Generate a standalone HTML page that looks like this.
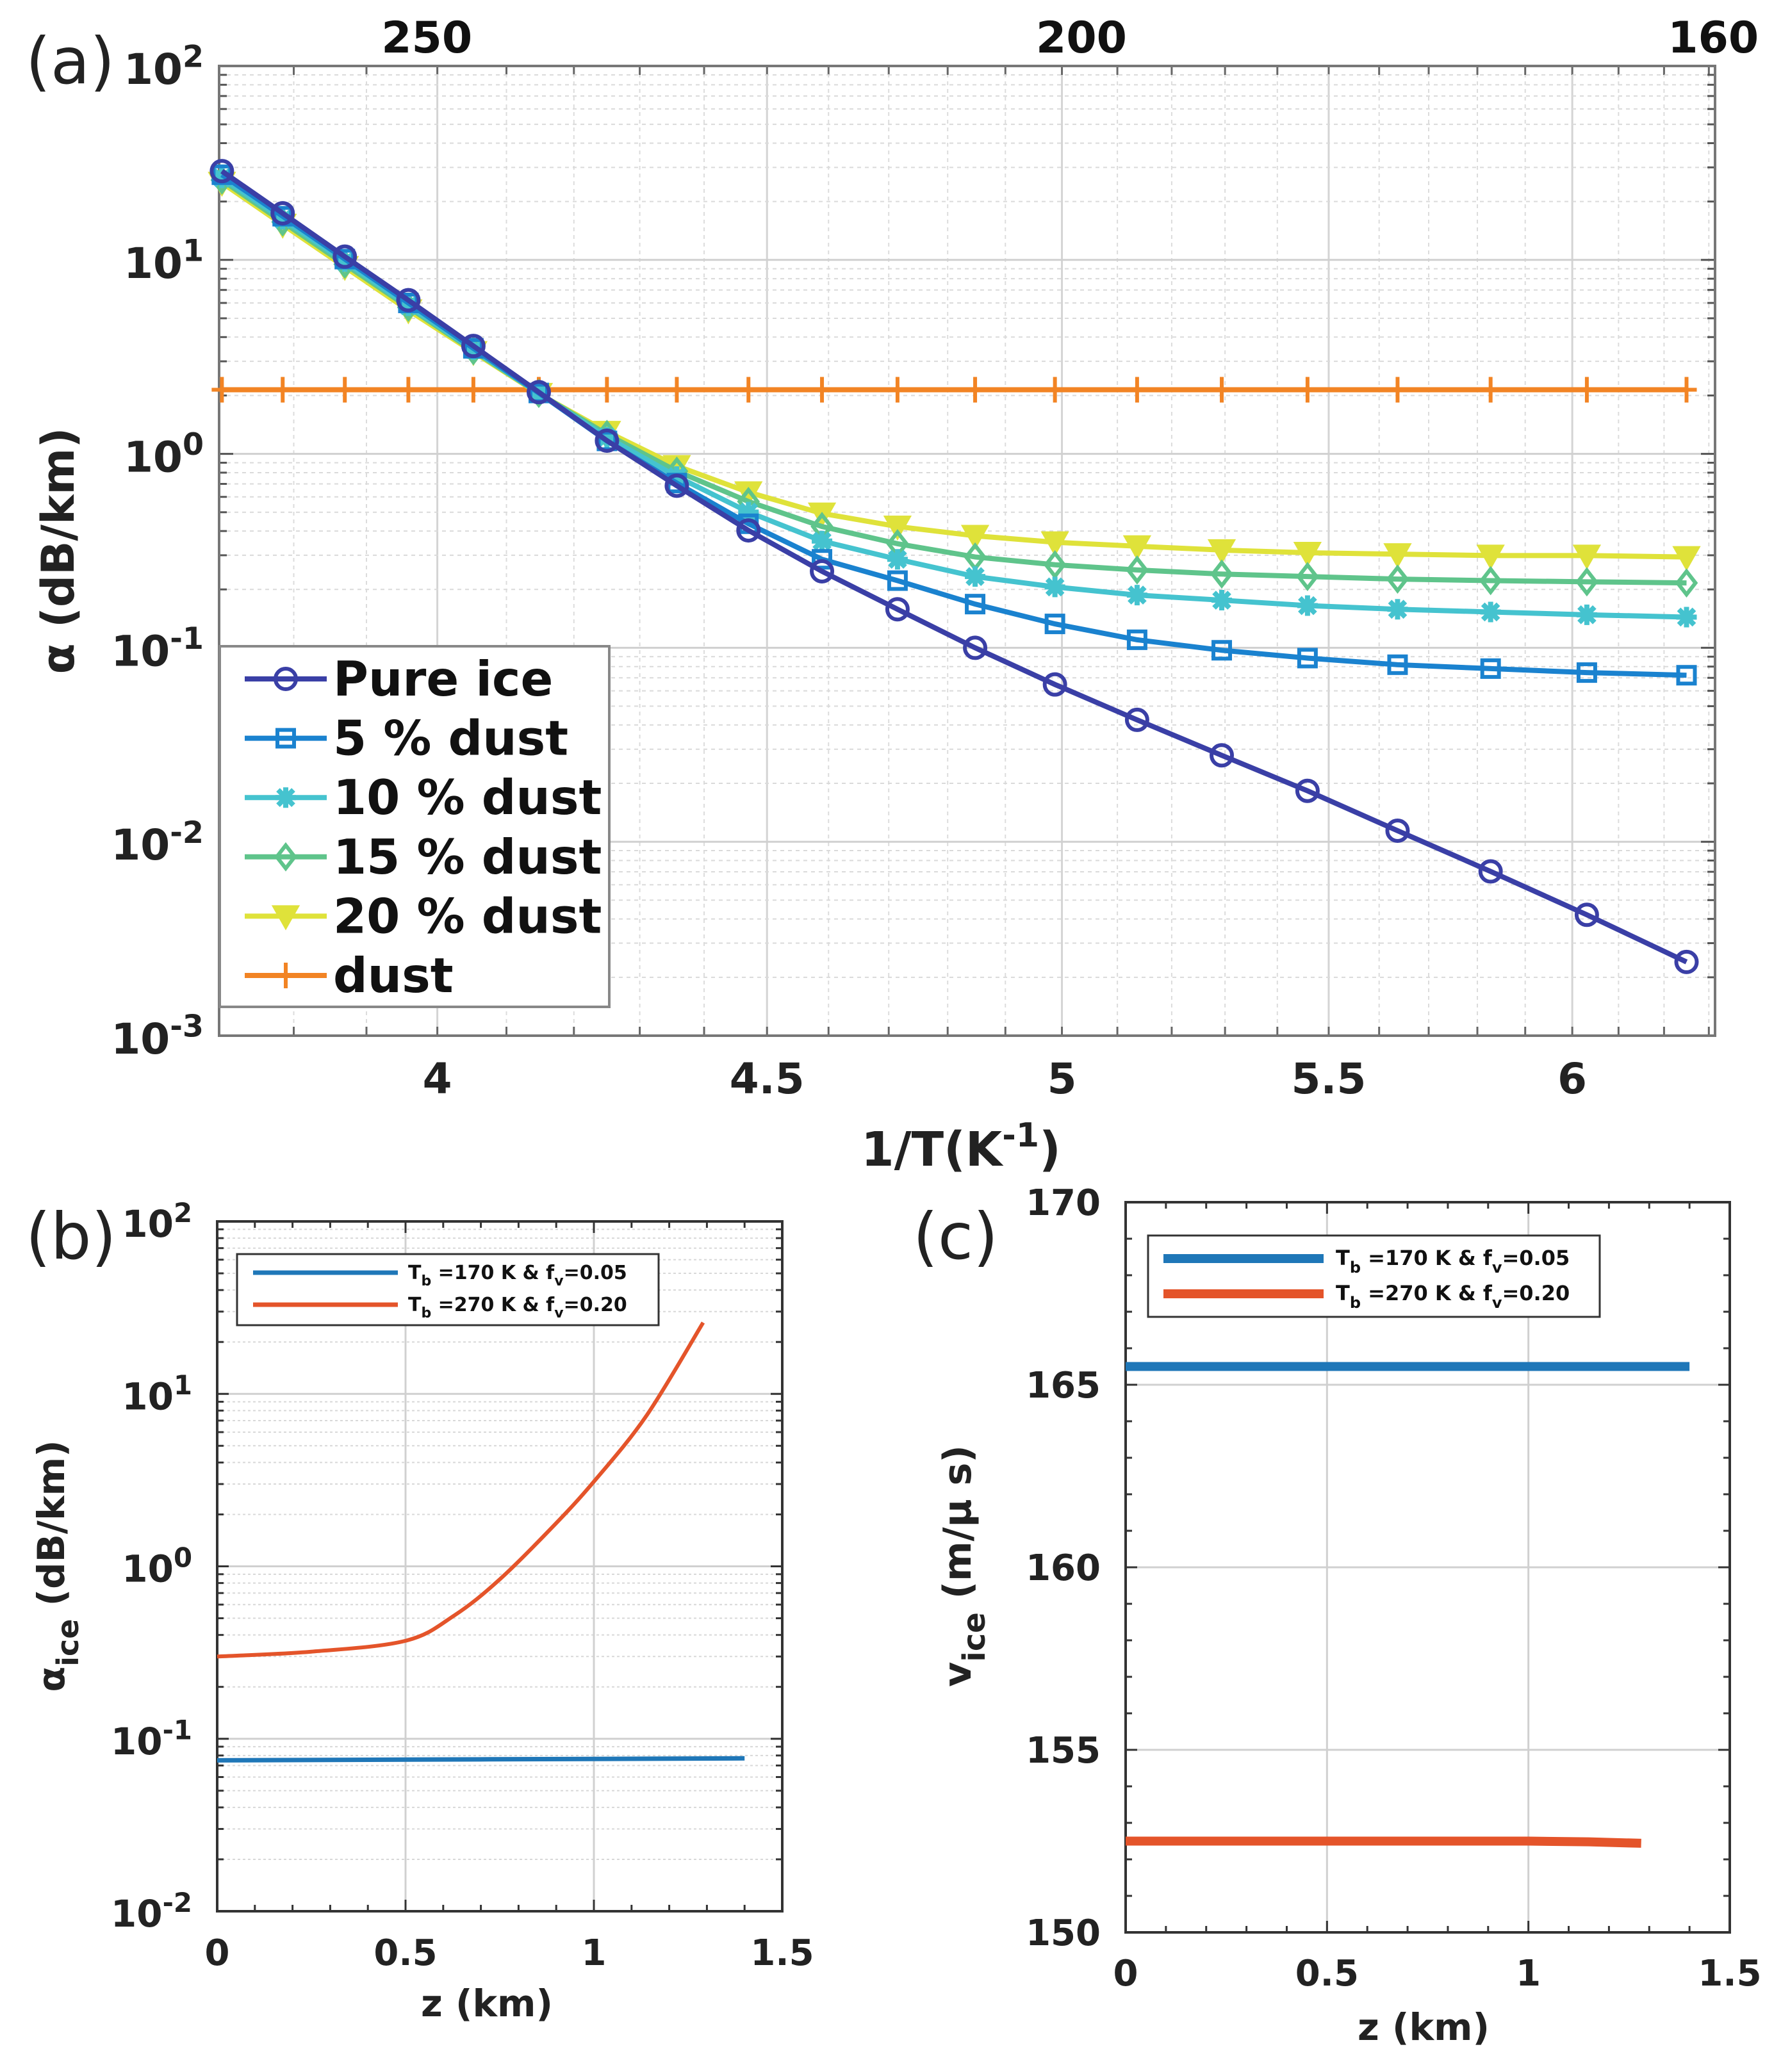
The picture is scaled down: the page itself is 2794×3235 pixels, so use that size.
<!DOCTYPE html>
<html><head><meta charset="utf-8">
<style>
html,body{margin:0;padding:0;background:#fff;}
svg{display:block;font-family:"DejaVu Sans","Liberation Sans",sans-serif;}
</style></head>
<body>
<svg id="fig" width="2794" height="3235" viewBox="0 0 2794 3235" xmlns="http://www.w3.org/2000/svg">
<rect width="2794" height="3235" fill="#fff"/>
<g id="pa"></g>
<g id="pb"></g>
<g id="pc"></g>
</svg>
<script>
// ---------- Panel (a) data ----------
const tempK = [270,264.2,258.4,252.6,246.8,241.1,235.3,229.5,223.7,217.9,212.1,206.3,200.5,194.7,188.9,183.2,177.4,171.6,165.8,160];
const pureIce = [28.7,17.4,10.4,6.2,3.6,2.08,1.17,0.685,0.403,0.248,0.158,0.100,0.0647,0.0425,0.0279,0.0183,0.0114,0.00703,0.0042,0.0024];
const dust5 = [27.5,16.8,10.1,6.0,3.5,2.06,1.166,0.707,0.436,0.286,0.222,0.168,0.1328,0.110,0.0971,0.0885,0.0818,0.0781,0.0745,0.0722];
const dust10 = [26.5,16.2,9.8,5.8,3.45,2.05,1.22,0.764,0.501,0.355,0.286,0.233,0.206,0.187,0.176,0.165,0.158,0.153,0.148,0.144];
const dust15 = [25.8,15.7,9.5,5.7,3.4,2.05,1.26,0.814,0.568,0.422,0.344,0.294,0.268,0.252,0.240,0.233,0.226,0.222,0.219,0.216];
const dust20 = [25.0,15.2,9.2,5.5,3.35,2.04,1.30,0.866,0.634,0.493,0.422,0.378,0.350,0.334,0.319,0.309,0.304,0.299,0.299,0.294];
const dustOnly = [2.14,2.14,2.14,2.14,2.14,2.14,2.14,2.14,2.14,2.14,2.14,2.14,2.14,2.14,2.14,2.14,2.14,2.14,2.14,2.14];
const xTicksA = [4,4.5,5,5.5,6];
const xTickLabelsA = ["4","4.5","5","5.5","6"];
const topTickLabelsA = ["250","200","160"];
const topTickValsA = [3.985,5.035,6.31];
const yExpA = [-3,-2,-1,0,1,2];
const legendA = ["Pure ice","5 % dust","10 % dust","15 % dust","20 % dust","dust"];
// ---------- Panel (b) data ----------
const zBlue = [0,0.35,0.7,1.05,1.4];
const aBlue = [0.075,0.0755,0.076,0.0765,0.077];
const zRed = [0,0.25,0.5,0.63,0.75,0.89,1.0,1.14,1.29];
const aRed = [0.30,0.32,0.37,0.52,0.84,1.69,3.1,7.5,25.9];
const yExpB = [-2,-1,0,1,2];
const xTicksB = [0,0.5,1,1.5];
const xTickLabelsB = ["0","0.5","1","1.5"];
// ---------- Panel (c) data ----------
const zBlueC = [0,1.4];
const vBlueC = [165.5,165.5];
const zRedC = [0,0.6,1.0,1.15,1.28];
const vRedC = [152.5,152.5,152.5,152.48,152.44];
const yTicksC = [150,155,160,165,170];
const xTicksC = [0,0.5,1,1.5];

const NS="http://www.w3.org/2000/svg";
function mk(parent,tag,attrs){const e=document.createElementNS(NS,tag);for(const k in attrs)e.setAttribute(k,attrs[k]);parent.appendChild(e);return e;}
function supText(parent,x,y,base,sup,size,anchor){
  const t=mk(parent,"text",{x:x,y:y,"font-size":size,"font-weight":"bold","text-anchor":anchor||"end",fill:"#222"});
  t.appendChild(document.createTextNode(base));
  const s=mk(t,"tspan",{dy:-size*0.4,"font-size":size*0.72});
  s.textContent=sup;
  return t;
}

// ================= Panel A =================
(function(){
const g=document.getElementById("pa");
const L=342,R=2677,T=103,B=1617;
const lx0=Math.log(3.70), lx1=Math.log(6.314);
const X=v=>L+(Math.log(v)-lx0)/(lx1-lx0)*(R-L);
const Y=v=>B-(Math.log10(v)+3)/5*(B-T);
const grid=mk(g,"g",{});


for(let v=3.7;v<6.32;v+=0.1){const x=X(v);const maj=xTicksA.some(t=>Math.abs(t-v)<1e-6);
  mk(grid,"line",{x1:x,x2:x,y1:T,y2:B,stroke:maj?"#d4d4d4":"#dcdcdc","stroke-width":maj?3:2,"stroke-dasharray":maj?"":"6 6"});
  mk(grid,"line",{x1:x,x2:x,y1:B,y2:B-14,stroke:"#666","stroke-width":3});
  mk(grid,"line",{x1:x,x2:x,y1:T,y2:T+14,stroke:"#666","stroke-width":3});}
for(let e=-3;e<2;e++){for(let m=1;m<10;m++){const y=Y(m*Math.pow(10,e));
  mk(grid,"line",{x1:L,x2:R,y1:y,y2:y,stroke:m==1?"#d0d0d0":"#dadada","stroke-width":m==1?3:2,"stroke-dasharray":m==1?"":"6 6"});
  mk(grid,"line",{x1:L,x2:L+(m==1?22:12),y1:y,y2:y,stroke:"#555","stroke-width":3});
  mk(grid,"line",{x1:R,x2:R-(m==1?22:12),y1:y,y2:y,stroke:"#555","stroke-width":3});}}
const box=mk(g,"rect",{x:L,y:T,width:R-L,height:B-T,fill:"none",stroke:"#777","stroke-width":4});


xTicksA.forEach((v,i)=>{const t=mk(g,"text",{x:X(v),y:B+90,"font-size":66,"font-weight":"bold","text-anchor":"middle",fill:"#222"});t.textContent=xTickLabelsA[i];
  
  });
topTickValsA.forEach((v,i)=>{const t=mk(g,"text",{x:X(v),y:82,"font-size":68,"font-weight":"bold","text-anchor":"middle",fill:"#111"});t.textContent=topTickLabelsA[i];
  
  });
yExpA.forEach(e=>{const t=supText(g,318,Y(Math.pow(10,e))+28,"10",String(e),66,"end");
  
  });
const yl=mk(g,"text",{x:0,y:0,"font-size":70,"font-weight":"bold","text-anchor":"middle",fill:"#222",transform:"translate(115,860) rotate(-90)"});
yl.textContent="α (dB/km)";


const xl=mk(g,"text",{x:1500,y:1820,"font-size":74,"font-weight":"bold","text-anchor":"middle",fill:"#222"});
xl.appendChild(document.createTextNode("1/T(K"));
const xs=mk(xl,"tspan",{dy:-30,"font-size":52});xs.textContent="-1";
const xs2=mk(xl,"tspan",{dy:30});xs2.textContent=")";


const pl=mk(g,"text",{x:40,y:130,"font-size":100,fill:"#222"});pl.textContent="(a)";



const series=[
 {d:pureIce,c:"#3a3fa6",m:"circle"},
 {d:dust5,c:"#1a82cf",m:"square"},
 {d:dust10,c:"#45c3cf",m:"star"},
 {d:dust15,c:"#5fc48b",m:"diamond"},
 {d:dust20,c:"#dfe23a",m:"tri"},
 {d:dustOnly,c:"#f28424",m:"plus"}];
function marker(p,type,x,y,c){
  if(type=="circle")return mk(p,"circle",{cx:x,cy:y,r:16,fill:"none",stroke:c,"stroke-width":6});
  if(type=="square")return mk(p,"rect",{x:x-13,y:y-13,width:26,height:26,fill:"none",stroke:c,"stroke-width":6});
  if(type=="diamond")return mk(p,"path",{d:`M${x} ${y-18}L${x+14} ${y}L${x} ${y+18}L${x-14} ${y}Z`,fill:"none",stroke:c,"stroke-width":6});
  if(type=="tri")return mk(p,"path",{d:`M${x-17} ${y-14}L${x+17} ${y-14}L${x} ${y+16}Z`,fill:c,stroke:c,"stroke-width":6});
  if(type=="plus")return mk(p,"path",{d:`M${x-16} ${y}H${x+16}M${x} ${y-20}V${y+20}`,fill:"none",stroke:c,"stroke-width":6});
  return mk(p,"path",{d:`M${x-16} ${y}H${x+16}M${x} ${y-16}V${y+16}M${x-12} ${y-12}L${x+12} ${y+12}M${x-12} ${y+12}L${x+12} ${y-12}`,fill:"none",stroke:c,"stroke-width":8});
}
[5,4,3,2,1,0].forEach(si=>{const s=series[si];
  const sg=mk(g,"g",{});
  
  
  const pts=tempK.map((t,i)=>[X(1000/t),Y(s.d[i])]);
  mk(sg,"polyline",{points:pts.map(p=>p.join(",")).join(" "),fill:"none",stroke:s.c,"stroke-width":8});
  pts.forEach(p=>{const m=marker(sg,s.m,p[0],p[1],s.c);
    
    });
});
const lg=mk(g,"g",{});


mk(lg,"rect",{x:343,y:1009,width:608,height:563,fill:"#fff",stroke:"#888","stroke-width":4});
legendA.forEach((name,i)=>{const y=1060+i*92.6;const s=series[i];
  const eg=mk(lg,"g",{});
  
  
  mk(eg,"line",{x1:382,x2:510,y1:y,y2:y,stroke:s.c,"stroke-width":8});
  marker(eg,s.m,446,y,s.c);
  const t=mk(eg,"text",{x:520,y:y+26,"font-size":75,"font-weight":"bold",fill:"#111"});t.textContent=name;});
})();

// ================= Panel B =================
(function(){
const g=document.getElementById("pb");
const L=339,R=1221,T=1907,B=2984;
const X=v=>L+v/1.5*(R-L);
const Y=v=>B-(Math.log10(v)+2)/4*(B-T);
for(let e=-2;e<2;e++){for(let m=1;m<10;m++){const y=Y(m*Math.pow(10,e));
  mk(g,"line",{x1:L,x2:R,y1:y,y2:y,stroke:m==1?"#d0d0d0":"#d8d8d8","stroke-width":m==1?3:2,"stroke-dasharray":m==1?"":"4 4"});
  mk(g,"line",{x1:L,x2:L+(m==1?18:10),y1:y,y2:y,stroke:"#333","stroke-width":3});
  mk(g,"line",{x1:R,x2:R-(m==1?18:10),y1:y,y2:y,stroke:"#333","stroke-width":3});}}
for(let v=0.1;v<1.5;v+=0.1){const x=X(v);const maj=Math.abs(v-0.5)<1e-6||Math.abs(v-1)<1e-6;
  if(maj)mk(g,"line",{x1:x,x2:x,y1:T,y2:B,stroke:"#d0d0d0","stroke-width":3});
  mk(g,"line",{x1:x,x2:x,y1:B,y2:B-(maj?18:10),stroke:"#333","stroke-width":3});
  mk(g,"line",{x1:x,x2:x,y1:T,y2:T+(maj?18:10),stroke:"#333","stroke-width":3});}
const box=mk(g,"rect",{x:L,y:T,width:R-L,height:B-T,fill:"none",stroke:"#333","stroke-width":4});


xTicksB.forEach((v,i)=>{const t=mk(g,"text",{x:X(v),y:3068,"font-size":56,"font-weight":"bold","text-anchor":"middle",fill:"#222"});t.textContent=xTickLabelsB[i];
  
  });
yExpB.forEach(e=>{const t=supText(g,300,Y(Math.pow(10,e))+24,"10",String(e),58,"end");
  
  });
const xl=mk(g,"text",{x:760,y:3148,"font-size":58,"font-weight":"bold","text-anchor":"middle",fill:"#222"});xl.textContent="z (km)";


const yl=mk(g,"text",{x:0,y:0,"font-size":58,"font-weight":"bold","text-anchor":"middle",fill:"#222",transform:"translate(100,2445) rotate(-90)"});
yl.appendChild(document.createTextNode("α"));
const ys=mk(yl,"tspan",{dy:22,"font-size":46});ys.textContent="ice";
const ys2=mk(yl,"tspan",{dy:-22});ys2.textContent=" (dB/km)";


const pl=mk(g,"text",{x:40,y:1965,"font-size":100,fill:"#222"});pl.textContent="(b)";


const bl=mk(g,"polyline",{points:zBlue.map((z,i)=>X(z)+","+Y(aBlue[i])).join(" "),fill:"none",stroke:"#1f77b8","stroke-width":7});


let rp=[];
for(let i=0;i<zRed.length;i++)rp.push([X(zRed[i]),Y(aRed[i])]);
let d="M"+rp[0][0]+" "+rp[0][1];
for(let i=1;i<rp.length;i++){const p0=rp[Math.max(0,i-2)],p1=rp[i-1],p2=rp[i],p3=rp[Math.min(rp.length-1,i+1)];
  d+=`C${p1[0]+(p2[0]-p0[0])/6} ${p1[1]+(p2[1]-p0[1])/6} ${p2[0]-(p3[0]-p1[0])/6} ${p2[1]-(p3[1]-p1[1])/6} ${p2[0]} ${p2[1]}`;}
const rl=mk(g,"path",{d:d,fill:"none",stroke:"#e4542a","stroke-width":6});


const lg=mk(g,"g",{});


mk(lg,"rect",{x:370,y:1958,width:658,height:111,fill:"#fff",stroke:"#333","stroke-width":3});
[["170","0.05","#1f77b8",1987],["270","0.20","#e4542a",2037]].forEach(e=>{
  const eg=mk(lg,"g",{});
  
  
  mk(eg,"line",{x1:395,x2:621,y1:e[3],y2:e[3],stroke:e[2],"stroke-width":7});
  const t=mk(eg,"text",{x:637,y:e[3]+10,"font-size":30,"font-weight":"bold",fill:"#111"});
  t.appendChild(document.createTextNode("T"));
  const a=mk(t,"tspan",{dy:10,"font-size":22});a.textContent="b";
  const b=mk(t,"tspan",{dy:-10});b.textContent=" ="+e[0]+" K & f";
  const c=mk(t,"tspan",{dy:10,"font-size":22});c.textContent="v";
  const f=mk(t,"tspan",{dy:-10});f.textContent="="+e[1];});
})();

// ================= Panel C =================
(function(){
const g=document.getElementById("pc");
const L=1757,R=2700,T=1877,B=3017;
const X=v=>L+v/1.5*(R-L);
const Y=v=>B-(v-150)/20*(B-T);
for(let v=151;v<170;v++){const y=Y(v);const maj=v%5==0;
  if(maj)mk(g,"line",{x1:L,x2:R,y1:y,y2:y,stroke:"#d0d0d0","stroke-width":3});
  mk(g,"line",{x1:L,x2:L+(maj?18:10),y1:y,y2:y,stroke:"#333","stroke-width":3});
  mk(g,"line",{x1:R,x2:R-(maj?18:10),y1:y,y2:y,stroke:"#333","stroke-width":3});}
for(let v=0.1;v<1.5;v+=0.1){const x=X(v);const maj=Math.abs(v-0.5)<1e-6||Math.abs(v-1)<1e-6;
  if(maj)mk(g,"line",{x1:x,x2:x,y1:T,y2:B,stroke:"#d0d0d0","stroke-width":3});
  mk(g,"line",{x1:x,x2:x,y1:B,y2:B-(maj?18:10),stroke:"#333","stroke-width":3});
  mk(g,"line",{x1:x,x2:x,y1:T,y2:T+(maj?18:10),stroke:"#333","stroke-width":3});}
const box=mk(g,"rect",{x:L,y:T,width:R-L,height:B-T,fill:"none",stroke:"#333","stroke-width":4});


xTicksC.forEach(v=>{const t=mk(g,"text",{x:X(v),y:3100,"font-size":56,"font-weight":"bold","text-anchor":"middle",fill:"#222"});t.textContent=String(v);
  
  });
yTicksC.forEach(v=>{const t=mk(g,"text",{x:1718,y:Y(v)+20,"font-size":56,"font-weight":"bold","text-anchor":"end",fill:"#222"});t.textContent=String(v);
  
  });
const xl=mk(g,"text",{x:2222,y:3185,"font-size":58,"font-weight":"bold","text-anchor":"middle",fill:"#222"});xl.textContent="z (km)";


const yl=mk(g,"text",{x:0,y:0,"font-size":60,"font-weight":"bold","text-anchor":"middle",fill:"#222",transform:"translate(1515,2445) rotate(-90)"});
yl.appendChild(document.createTextNode("v"));
const ys=mk(yl,"tspan",{dy:22,"font-size":48});ys.textContent="ice";
const ys2=mk(yl,"tspan",{dy:-22});ys2.textContent=" (m/μ s)";


const pl=mk(g,"text",{x:1425,y:1965,"font-size":100,fill:"#222"});pl.textContent="(c)";


const bl=mk(g,"polyline",{points:zBlueC.map((z,i)=>X(z)+","+Y(vBlueC[i])).join(" "),fill:"none",stroke:"#1f77b8","stroke-width":14});


const rl=mk(g,"polyline",{points:zRedC.map((z,i)=>X(z)+","+Y(vRedC[i])).join(" "),fill:"none",stroke:"#e4542a","stroke-width":14});


const lg=mk(g,"g",{});


mk(lg,"rect",{x:1792,y:1929,width:705,height:127,fill:"#fff",stroke:"#333","stroke-width":3});
[["170","0.05","#1f77b8",1965],["270","0.20","#e4542a",2020]].forEach(e=>{
  const eg=mk(lg,"g",{});
  
  
  mk(eg,"line",{x1:1816,x2:2066,y1:e[3],y2:e[3],stroke:e[2],"stroke-width":14});
  const t=mk(eg,"text",{x:2085,y:e[3]+10,"font-size":32,"font-weight":"bold",fill:"#111"});
  t.appendChild(document.createTextNode("T"));
  const a=mk(t,"tspan",{dy:12,"font-size":24});a.textContent="b";
  const b=mk(t,"tspan",{dy:-12});b.textContent=" ="+e[0]+" K & f";
  const c=mk(t,"tspan",{dy:12,"font-size":24});c.textContent="v";
  const f=mk(t,"tspan",{dy:-12});f.textContent="="+e[1];});
})();
</script>
</body></html>
